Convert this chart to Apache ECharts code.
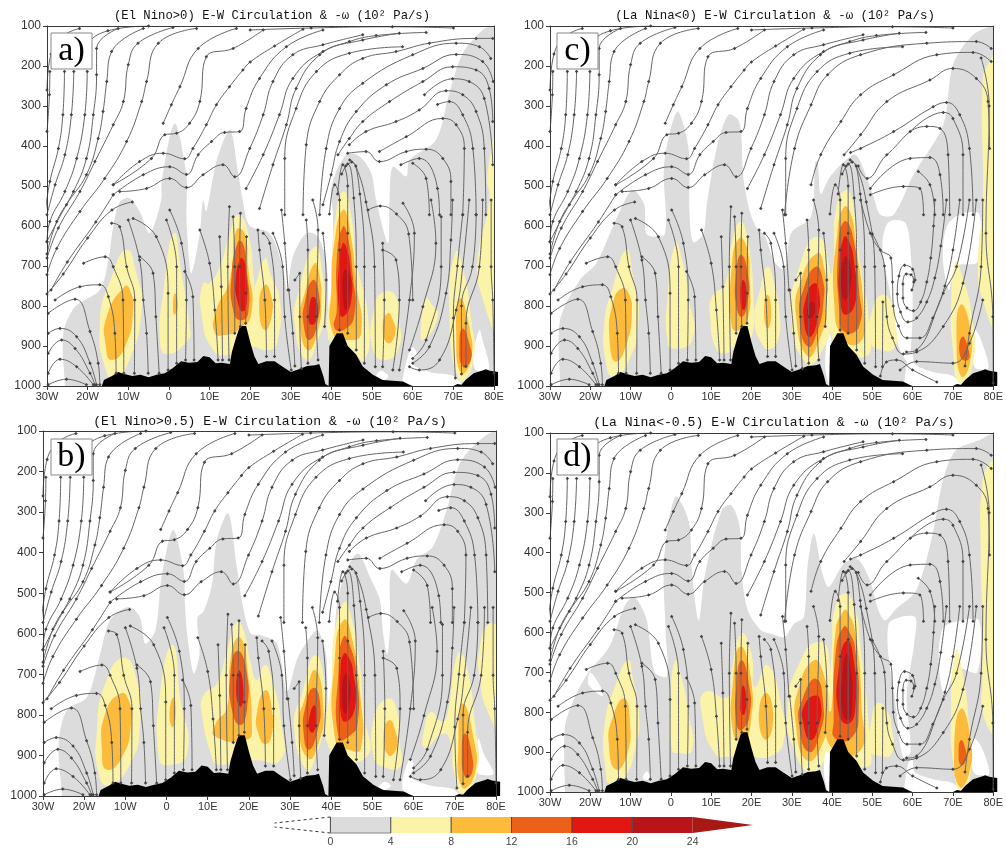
<!DOCTYPE html>
<html><head><meta charset="utf-8">
<style>html,body{margin:0;padding:0;background:#fff}#c{width:1006px;height:848px;filter:blur(0.35px)}</style>
<script src="https://cdn.jsdelivr.net/npm/echarts@6/dist/echarts.min.js"></script></head>
<body><div id="c"></div>
<script>
const lonTicks=['30W','20W','10W','0','10E','20E','30E','40E','50E','60E','70E','80E'];
const legendLevels=[0,4,8,12,16,20,24];
const levelColors=['#dcdcdc','#fbf3a8','#fdbb3c','#ec6119','#e21613','#b8141a','#a81815'];
const WHITE=-1;
const terrain=[-16.5,1040,-16.5,1000,-16,985,-14,975,-12.5,965,-11,970,-9,975,-7,972,-5,978,-3,972,-1,968,1,955,3,938,5,942,7,940,8.5,925,10,928,11.5,943,13,942,15,945,15.5,915,16.5,880,17.5,850,19,850,20,890,21,925,22,945,24,938,26,938,28,952,30,965,32,958,34,950,36,948,37,945,38,975,38.5,995,39.3,1000,39.5,900,41.3,868,42.8,868,44,900,46.1,922,47.7,951,50.2,972,52.6,985,57.6,989,59.2,997,60,1000,70,1000,71,995,72,997,73,985,75,968,77,962,78,958,79,962,81,965,81,1000];

const fillsA=[
[0,[-25.5,1040,-25.6,1000,-26,868,-23.1,802,-17,760,-14.9,685,-13.7,602,-12.1,540,-9.6,531,-7.2,564,-4.7,618,-1.9,535,-1.8,489,1.4,343,4.3,472,4.3,572,4.5,618,5.5,718,7.6,618,8.4,535,9.2,564,11.7,439,15,360,17,464,18.2,539,19.9,600,24.8,618,28,702,29.1,760,30.5,677,33.8,618,36.7,627,38.9,702,39.3,885,39.8,827,40.4,577,40,501,43.6,422,46.9,426,49.8,468,51,535,53.9,643,54.3,535,55.1,452,58.4,476,59.2,435,65.7,385,69,268,72.3,168,77.2,110,80,97,85,97,85,1040]],
[WHITE,[57.5,985,59,920,60,902,61,920,60,945,64,965,70,975,72,1000,58,1000]],
[WHITE,[76.4,860,74.8,926,75.6,960,78.8,960,77.2,885]],
[WHITE,[51,975,52.2,962,54,975,53,985]],
[1,[-10.4,660,-14.1,727,-17,843,-15.3,968,-13.3,977,-10.4,952,-6.7,810,-8,718]],
[2,[-10.8,750,-15.3,827,-15.5,902,-14.1,935,-10.8,902,-8.8,810,-9.6,760]],
[1,[1.2,618,-1.4,768,-2.2,885,-.6,920,4.7,885,5.1,851,3.1,718]],
[2,[1.5,768,1,800,1.4,822,2.2,800]],
[1,[17,572,15,618,12.5,702,10,743,8.4,743,8,818,10.9,910,15,922,19.9,902,24.8,910,26.8,885,27.3,785,25,720,23.6,681,21.1,752,21,743,19.5,618]],
[2,[16.6,610,15,735,11.7,810,11.3,868,14.1,872,17,860,20.3,818,19.5,702,18.6,618]],
[3,[17,639,15.4,727,15.8,810,17.4,835,19.5,818,19.1,702,18.2,643]],
[4,[17.6,681,16.4,735,16.8,785,18.2,814,19.2,785,19,718,18.4,685]],
[2,[23.6,747,22.2,802,23.6,860,25.4,818,25,768]],
[1,[35.9,652,31.8,768,30.9,843,33.8,935,36.7,885,38.3,818,37.9,727]],
[2,[35.9,693,33.4,768,32.2,835,34.2,910,36.7,860,37.5,785,37.1,727]],
[3,[35.4,735,33.4,793,33.1,843,34.6,885,36.7,835,36.9,768]],
[4,[35.4,777,34.5,810,34.6,843,35.9,843,36.7,802]],
[1,[43.2,514,41.2,560,40,743,39.5,885,44,900,48.1,935,49,827,46.1,685,44.9,577]],
[2,[42.8,560,40.8,635,40,752,40.4,868,44.5,885,47.3,868,46.1,743,44.4,602]],
[3,[42.8,602,41.3,685,41.3,810,40.8,856,43.6,856,45.7,818,45.3,727,44,627]],
[4,[42.8,643,41.8,702,41.8,802,42.8,827,44.9,785,44.6,702,43.6,652]],
[5,[43.2,710,42.8,768,43.6,810,44.5,768,44.3,718]],
[1,[53,764,50.6,802,50.2,910,53.5,935,56.7,902,56.7,835,55.9,777]],
[2,[53.9,818,52.6,851,53.9,893,55.7,868,55.1,835]],
[1,[63.3,781,62.1,843,62.5,885,66.2,827,64.5,793]],
[1,[70.6,664,69,810,71.5,985,74.8,943,74.3,827,72.3,702]],
[2,[71.6,781,70.7,868,71.9,968,74.3,935,73.9,851]],
[3,[72.3,856,71.5,893,72.3,952,74.3,935,73.9,893]],
[1,[81,360,78.4,468,78.8,535,76,685,76.8,768,81,860]]
];
const fillsB=[
[0,[-25.4,1040,-25.4,1000,-26.2,871,-24.2,788,-19.3,756,-16.1,649,-13.7,566,-9.3,534,-6.5,558,-5.2,624,-2.7,591,-1.2,460,1.6,344,4.1,443,4.5,534,5,600,6.6,698,8,650,7.5,560,9,545,11,480,12.2,369,15,303,17,430,18.5,530,20.5,600,22.8,603,26.8,624,29.2,743,31.6,665,33.3,632,36.5,591,38.1,624,38.9,665,39.3,860,40.2,860,40.5,700,41.3,534,43.7,443,46.5,402,49.4,460,51.8,517,52.6,600,53.6,650,54.3,580,54.6,443,58.3,476,60.7,418,64.7,385,68,295,71.2,180,76.1,122,80.1,98,85,98,85,1040]],
[WHITE,[57.2,970,59.2,904,60,928,59.2,953,64,974,69.3,982,71,998,58.3,998]],
[WHITE,[75.7,858,74.9,912,75.7,945,79.4,945,77,895]],
[WHITE,[51.5,978,53,965,54.5,975,53,985]],
[1,[-10.4,659,-14.9,723,-16.9,838,-16.5,945,-14,974,-8.8,920,-6.4,821,-7.2,714]],
[2,[-11.2,747,-14.9,797,-15.7,887,-14.5,935,-10.8,904,-8.6,821,-9.2,764]],
[1,[1.5,628,-1.5,739,-1.9,904,.1,924,5,895,3.3,756]],
[2,[1.7,757,.7,797,1.5,830,2.2,797]],
[1,[17.1,570,14.7,640,12.2,723,9,751,8.6,797,11,904,12.2,922,15.5,920,21.5,912,27.6,912,28,830,25.2,698,23.8,677,21.9,714,20.3,665,18.7,591]],
[2,[17.2,609,15.5,665,14.7,780,11.8,825,11.8,854,19.5,861,20.7,821,19.5,673,18.7,624]],
[3,[17.2,642,15.5,698,15.9,788,17.9,825,19.5,788,19.4,690]],
[4,[17.7,690,16.9,739,17.9,780,18.7,747]],
[2,[24,739,21.9,797,22.3,846,24,872,25.6,846,25.6,788]],
[1,[36.1,653,32.9,747,31,830,34.1,937,36.5,895,38.1,830,38.5,739]],
[2,[36.1,690,33.7,756,32.1,830,34.5,908,36.9,871,38.1,788]],
[3,[35.7,733,33.7,780,33.3,846,34.5,886,36.5,846,37.3,772]],
[4,[35.9,776,34.7,805,34.7,838,35.7,842,36.4,805]],
[1,[43.3,521,41,583,40.1,706,39.7,887,48.6,904,47.8,788,46.6,649,44.6,550]],
[2,[43,566,41,640,41,863,44.6,887,47.2,883,47,747,44.6,591]],
[3,[43,607,41.8,682,41.8,858,44.6,850,46.4,821,46.2,706,44.4,624]],
[4,[43,649,42.2,698,42.2,788,43.4,817,45.8,780,45.4,698,44.2,657]],
[5,[43.4,698,42.6,747,43.4,797,44.6,756,44.2,706]],
[1,[53.9,760,50.7,797,50.3,904,52.7,928,56.7,928,56.7,871,55.9,788]],
[2,[54.1,813,52.7,846,53.9,900,55.9,879,55.5,838]],
[1,[64.4,793,62.8,821,62.8,883,67.2,846,69,870,69.7,937,71.7,994,75.3,945,74.9,821,72.5,665,70.7,649,68,805,66.5,815]],
[2,[71.9,772,70.9,854,71.7,978,74.9,945,74.5,854]],
[3,[72.5,846,71.7,887,72.5,953,74.1,945,74.1,895]],
[1,[78.4,575,76.1,632,76.1,714,78.2,797,81,838,81,600]]
];
const fillsC=[
[0,[-27.5,1040,-27.5,1000,-27.5,835,-22.6,735,-18.5,693,-13,570,-9.5,510,-6.6,547,-6,620,-1.5,620,-1.7,447,1.6,314,4.4,406,4.6,560,5.5,640,8,620,9,540,11.5,400,14.3,322,17,340,18,480,19.5,560,21,600,23.3,625,25.8,691,28.2,707,29.9,617,34.8,576,35.8,440,36.4,440,37.2,520,39.3,480,43,439,45.9,422,48.7,481,50.4,530,52,572,55.3,572,60.2,472,67.6,347,70,197,75,122,80,100,85,100,85,1040]],
[WHITE,[54,590,52.5,650,55,800,56.5,900,59,940,60,800,59.3,640,58,590]],
[WHITE,[68.5,600,67.5,680,69,760,71,700,76,690,76.5,570,72,570]],
[WHITE,[58,985,59,925,60,915,60.5,945,65,965,70,975,72,1000,58,1000]],
[WHITE,[75.5,860,74.8,920,75.6,955,78.8,955,77,885]],
[WHITE,[39,860,38.3,950,39.3,1000,39.8,990,39.8,880]],
[1,[-11.1,660,-14.4,752,-16.5,843,-16.1,943,-14.4,976,-10.7,943,-8,835,-9.5,718]],
[2,[-12.1,756,-14.4,793,-15.2,885,-13.6,939,-10.7,885,-9.7,818,-10.3,772]],
[1,[1.2,643,-.9,785,-.9,885,.3,906,5.3,885,4.4,777,2.8,685]],
[1,[17.2,589,15.1,643,13.5,743,10.2,777,9.8,835,11,902,12.6,918,15.1,910,17,880,20,880,20.4,760,19.8,680,18.8,618]],
[2,[16.9,631,15.1,702,15.1,851,17,860,19.2,827,19.6,743,18.8,652]],
[3,[17.4,672,16.1,727,16.3,802,17.6,827,19,793,19.2,727]],
[4,[18,735,17.2,768,18,810,18.8,777]],
[1,[24,702,22.1,760,20.8,835,22.5,893,24.5,908,26.6,885,27,818,25.8,752]],
[2,[24,772,23.1,810,24,856,24.9,818]],
[1,[36.3,627,31.9,702,29.9,835,33.6,943,36.8,926,40.1,827,39.3,702]],
[2,[36.3,668,32.3,735,31.1,827,34,926,36.8,885,38.9,802,38,702]],
[3,[36,702,33.1,752,31.9,827,34,902,36.5,860,37.9,785,37.7,735]],
[4,[35.6,743,33.6,777,33.1,843,34.6,877,36.5,827,36.8,768]],
[5,[34.4,793,34,827,35.2,827,35.6,793]],
[1,[43.4,510,41,556,40.5,660,39.7,868,48.3,926,49.1,835,47.1,702,45,535]],
[2,[43,552,41.3,618,40.5,785,43,885,47.1,889,47.9,818,45.9,643,44.6,568]],
[3,[43,589,41.5,660,41.8,810,43,864,46.7,851,46.7,760,45,618]],
[4,[43,627,41.8,702,42,785,43.4,822,45.9,785,45.4,685,44.2,639]],
[5,[43.2,677,42.2,735,43.2,785,44.6,752,44.5,693]],
[1,[52.4,772,50,810,49.5,885,52,910,55.7,902,55.7,843,54.9,793]],
[1,[70.7,689,69.6,785,70,910,71.7,993,75,943,74.6,818,72.1,718]],
[2,[71.9,797,70.9,885,72.1,976,74.2,943,74.2,851]],
[3,[72.3,877,71.8,926,73.7,935,73.9,910]],
[1,[81,172,79,190,77.4,240,77.4,535,76.2,702,77.4,785,81,860]]
];
const fillsD=[
[0,[-26.3,1040,-26.3,1002,-26.3,837,-23.8,762,-20.6,703,-15.3,636,-11.6,536,-9.1,511,-6.2,561,-5.5,600,-4,700,-1,710,-1.3,600,-1.7,419,1.1,260,4.4,319,5.2,444,6.9,570,8.5,452,12.6,294,15,281,17.1,336,17.5,444,19.1,545,22.4,595,24.9,603,28.2,611,30.6,578,33,561,33.9,436,35.5,352,37.6,452,39.2,486,42.9,428,46.2,415,49.4,469,51.5,544,53.1,570,56,540,60.9,494,65,352,67.5,219,70.7,143,76.5,118,80,101,85,101,85,1040]],
[WHITE,[54,580,56,800,57.6,912,59.5,900,58.5,760,60.5,620,60.5,560]],
[WHITE,[67.5,590,66.5,680,68,760,71,690,76,700,76.5,570,72,570]],
[WHITE,[58,985,59,925,60,920,60.5,950,65,968,70,978,72,1000,58,1000]],
[WHITE,[75,865,74.5,925,75.5,955,79,955,77,885]],
[WHITE,[38.5,860,38,950,39,1000,39.7,990,39.8,880]],
[WHITE,[-7,965,-6,948,-5,960,-6,970]],
[WHITE,[-20,700,-17.5,735,-17,760,-20.5,730]],
[1,[-10.6,670,-13.6,728,-16.5,837,-16.1,954,-15.2,979,-12,971,-8.7,887,-7.9,804,-9.5,712]],
[2,[-11.6,766,-14.4,812,-15.4,879,-13.6,944,-10.8,904,-10.2,820]],
[1,[1.1,670,-.1,787,.3,896,1.5,902,5.2,896,4.4,804,2.8,720]],
[1,[17.5,603,15,703,14.2,762,8.5,749,7.7,804,11,904,15,912,19.1,912,25.3,908,28.2,862,27.7,795,24,682,20.8,737,20,653]],
[2,[17.3,636,15.5,712,15.5,854,17.9,870,19.8,829,19.8,712]],
[3,[17.5,670,16.3,728,16.3,829,17.5,845,19.6,804,19.2,720]],
[4,[17.9,733,17.3,770,17.5,804,18.3,804,18.7,762]],
[2,[23.6,752,21.8,812,23.6,869,25.4,812]],
[1,[36.3,624,32.2,670,29,787,30.6,896,35.1,950,38.8,879,39.2,653]],
[2,[35.5,670,31.8,737,31,829,33.9,921,38,870,39.2,795,37.6,695]],
[3,[36,716,32.7,766,31.8,829,34.3,900,37.2,845,37.8,778]],
[4,[36,758,33.1,783,32.9,829,34.7,870,36.8,829,37.2,778]],
[1,[43.3,503,40.8,536,40,628,39.2,829,39.2,904,48.6,937,49.4,879,47,628,45.8,545]],
[2,[42.9,545,40.9,595,39.8,795,38.5,800,40.4,895,47.1,895,47.4,795,45.8,603,43.7,545]],
[3,[42.9,586,40.9,653,40.4,820,40.8,866,45,862,46.6,795,45.8,645,44.5,603]],
[4,[43.7,620,41.7,687,41.7,804,44.1,829,45.8,787,45.4,670]],
[5,[43.7,653,42.5,712,42.5,795,44.1,820,45,770,44.7,695]],
[1,[51.3,777,49.9,812,49.4,896,51,908,54.8,904,54.8,837,53.5,795]],
[1,[70.7,645,69.5,795,70.3,946,72,996,74.4,954,74,829,72,678]],
[2,[72,791,70.3,896,71.6,987,74,954,74.4,870]],
[3,[72,870,71.4,904,72,933,73.2,921,73.2,896]],
[1,[81,173,79.3,173,77.3,227,76.9,402,77.3,570,77.3,712,77.7,812,81,854]]
];

const upperLines=[
[-29.3,214,-29.4,272,-30,364],
[-25.7,214,-26.1,322,-27.2,406,-29.3,489,-30.5,572],
[-23.4,214,-24,322,-25.6,422,-28,497,-30,572],
[-20.1,214,-20.7,322,-22.7,431,-25.6,514,-29.3,589,-30,640],
[-12.5,106,-17.8,156,-17.8,222,-18.6,322,-20.3,431,-23.5,514,-27.6,589,-30,670],
[-6.3,106,-14.1,164,-15.3,239,-16.2,314,-17.4,381,-20.3,472,-25.2,547,-30,639],
[1,104,-7.6,143,-10,197,-11.2,289,-13.7,347,-18.2,439,-21.9,514,-27.2,605,-30,680],
[6.8,106,-2.6,143,-5.5,239,-6.7,289,-10.4,389,-15.8,481,-21.9,564,-27.6,656,-30,722],
[16.6,106,7.2,156,2.7,252,.6,297,-1.4,343],
[23.2,110,15.8,156,9.2,177,7.6,289,5.1,343,1.9,368,-1,372,-4.3,431,-13.7,497],
[33,108,26,150,20,190,18.2,210,14.9,252,11.7,297,9.2,347,5.9,406,3.9,432,-1.4,418,-7.2,439,-13.7,497],
[37.9,110,28.9,152,22.3,231,19,306,17.4,364,13.7,366,10.5,389,7.2,422,4.3,471,.2,452,-6.3,472,-13.7,522],
[47.7,122,37.9,147,30.5,172,25.6,239,23.2,322,19.9,406,16.2,477,13.3,447,8.4,472,4.3,504,.2,481,-5.5,506,-12.1,514],
[56.7,118,47.7,135,37.9,164,30.5,231,27.2,322,23.2,422,19,506],
[63.3,116,51,124,44.4,139,37.1,172,31.3,256,28.9,347,25.6,447,22.3,556],
[57.5,152,44.4,168,36.3,214,31.3,306,28.5,431,28.5,572],
[-22,106,-26,125,-29,170,-30,260],
[-5,100,-15,112,-20,150,-20.5,190],
[70,105,55,102,35,105,20,110],
[-13.7,522,-18,590,-25,690,-29,760],
[-9,540,-14,560,-20,630,-26,720,-30,770]
];
const lowerLines=[
[-28,785,-21.9,752,-17,747,-14.9,777,-13.3,868,-13,968],
[-29.7,818,-23.1,783,-19.4,864,-17.4,943,-17,997],
[-29.7,868,-26.8,856,-22.7,877,-19.4,943,-17.8,997],
[-29.7,918,-26.4,885,-23.1,906,-19.4,968,-18.2,997],
[-29.7,968,-26.8,933,-22.7,952,-18.6,997],
[-29.7,997,-25.2,983,-20.3,997],
[-21,693,-15.7,677,-13.7,702,-11.3,785,-11.1,968],
[-14.1,593,-12.1,602,-10.4,702,-8.4,785,-8.5,968],
[-10,585,-7.2,685,-6.3,785,-5.5,868,-5.1,968],
[-7.2,677,-3.9,718,-3.2,827,-2.4,968],
[-8.8,581,-3.1,627,-.2,768,-.2,960],
[-.6,585,1.9,702,1.9,943],
[.2,560,3.1,643,4.3,785,4.1,935],
[3.9,714,5.9,777,6.2,935],
[7.6,610,10,693,11.3,810,12.1,935],
[12.5,627,12.9,752,13.2,935],
[14.9,552,14.5,702,14.8,935],
[15.8,577,16.2,702,16.2,868],
[17.6,568,17.4,702,17.6,851],
[19.1,627,18.9,768,18.9,843],
[21.9,610,22.3,660,23.6,785,24,926],
[23.2,618,24.8,643,26,785,26,926],
[25.6,618,28,702,28.5,827,30.1,960],
[27.7,560,28.5,643,29.3,760],
[29.5,760,30.5,868,31,950],
[33.8,585,34.2,660,34.2,827,34.2,943],
[31,735,32.2,718,32.2,827,32.6,956],
[35.4,535,36.7,610,36.3,827,36.7,935],
[37.9,618,38.7,735,38.3,851],
[39.5,570,40.8,497,42,535,42,660,42,860],
[41.5,520,42.8,447,44,500,44,618,44,868],
[42.5,470,44,445,45.5,530,46.1,702,46.1,910],
[43.5,450,45,440,47,520,48.1,702,48.1,943],
[44.5,435,46,450,48.5,540,50.6,702,50.8,952]
];
const elNinoLines=[
[79.7,131,75.6,131,64.1,143,55.9,164,47.7,181,42,222,37.1,289,33.8,397,33,572],
[79.2,181,76.4,152,70.7,143,60,172,47.7,243,42,306,38.7,406,37.1,572],
[79.8,239,77.2,189,70.7,171,62.5,206,53.5,247,46.1,314,42,389,39.9,472,37.9,547],
[79.7,339,78.8,256,75.6,210,69.8,202,62.5,239,54.3,289,47.7,339,44.4,381,41.6,422],
[79.7,447,77.6,281,73.9,239,69.8,232,62.9,272],
[78,572,77.6,406,75.6,314,72.3,272,68.2,262,61.6,310,55.9,339,48.5,364,44.4,397],
[75.6,572,74.8,406,72.3,322,69,289,66.1,296],
[72.3,572,72.7,406,70.7,347,67.4,331,58.4,377,51.8,414],
[69.4,572,69.4,489,67.4,431,63.3,408,58.4,414,51.8,439,48.5,414,44,418],
[66.6,572,66.1,506,61.6,431,57.1,447],
[64.1,572,63.3,481,60,443],
[49,560,52,550,56,570,59,620,60,785],
[52.6,643,53,785,52.6,952],
[52.6,660,55.9,685,56.7,785,55.1,960],
[57.6,543,60.4,618,59.2,785,56.7,960],
[64.5,535,65.7,643,62.5,802,59.2,910],
[67,577,67,702,63.3,885,60,931],
[69.8,535,69.4,635,68.2,768,64.1,902,60,943],
[73.9,535,72.3,702,70.7,810,66.6,935,61.6,960,59.2,952],
[77.2,535,76.4,702,73.1,843,73.1,951],
[79.3,535,79.3,702,79.7,785,80,968],
[75.6,572,74.7,702,72,800,72,970],
[72.3,572,71,700,70,830,70.5,980]
];
const laNinaLines=[
[79.5,156,75.8,139,63.5,143,47.1,172,38.9,222,34.8,297,30.7,406,28.2,572],
[79.5,189,75,166,66,172,55.3,222,47.1,272,42.2,339,37.2,422,34.8,497],
[79.1,406,78.7,289,75.8,231,70,206,64.3,235,53.6,289,47.1,372,43,422],
[75,572,74.1,406,71.7,322,68.4,291,65.1,302,55.3,364,47.1,406,44.6,416],
[72.5,572,72.5,422,70,331,67.6,316,59.4,364],
[69.2,572,68.8,422,66.8,356,63.5,351,53.6,422,48.7,481,46.5,450],
[67.6,572,66.8,472,64.3,429,59.4,431,49.5,506],
[65.5,572,64.3,497,61.4,464],
[62.7,572,61.8,506,57.7,501,49.5,522],
[80,993,79.9,827,78.2,618,79,300,77,180],
[77.4,535,77,702,74.1,868,73,950],
[74.1,535,70.9,702,67.6,768,61,910,58.5,915],
[59.8,760,60.3,740,59.6,722,58.4,720,57.6,745,57.6,780,58.6,805,60.2,812,62,790,63.5,740,64.5,680,65.2,600,65.5,535],
[60.6,735,60,708,58,698,56.6,725,56.2,770,57,815,58.8,840,61,830,63.5,790,65.5,730,67,650,68.4,535],
[47.1,535,49.5,618,52,660,54.6,680,55,740,55.2,800,56.5,850,58.6,880,61.8,880,65,830,68,750,70,660,71.7,535],
[50,620,53,700,53.6,827,55,880,57.7,920,61,915,67.6,851,72.5,743,75.8,535],
[77.4,785,74.1,893,70,943,61,939,56.9,960],
[66,990,60,960,56,935,53.5,940,52,975],
[52.6,790,52.5,952]
];

const chart=echarts.init(document.getElementById('c'),null,{renderer:'canvas'});
function pairs(f){const o=[];for(let i=0;i<f.length;i+=2)o.push([f[i],f[i+1]]);return o;}
const panels=[
 {g:{left:47,top:26,width:447,height:360},fills:fillsA,lines:[upperLines,lowerLines,elNinoLines],title:'(El Nino>0) E-W Circulation & -ω (10² Pa/s)',tx:267,ty:5,fs:12.25,tag:'a)',bx:51,by:33},
 {g:{left:43,top:431,width:453,height:365},fills:fillsB,lines:[upperLines,lowerLines,elNinoLines],title:'(El Nino>0.5) E-W Circulation & -ω (10² Pa/s)',tx:265,ty:410,fs:13.1,tag:'b)',bx:51,by:439},
 {g:{left:550,top:26,width:447,height:360},fills:fillsC,lines:[upperLines,lowerLines,laNinaLines],title:'(La Nina<0) E-W Circulation & -ω (10² Pa/s)',tx:770,ty:5,fs:12.4,tag:'c)',bx:557,by:33},
 {g:{left:550,top:433,width:448,height:359},fills:fillsD,lines:[upperLines,lowerLines,laNinaLines],title:'(La Nina<-0.5) E-W Circulation & -ω (10² Pa/s)',tx:769,ty:411,fs:13.1,tag:'d)',bx:557,by:439}
];
const grid=[],xAxis=[],yAxis=[],series=[],title=[],graphic=[];
const frame={show:true,onZero:false,lineStyle:{color:'#3a3a3a',width:1}};
panels.forEach((P,k)=>{
 grid.push(P.g);
 const xi=xAxis.length,yi=yAxis.length;
 xAxis.push({type:'value',gridIndex:k,min:-30,max:80,interval:10,z:10,axisLine:frame,axisTick:{show:true,length:4,lineStyle:{color:'#3a3a3a'}},splitLine:{show:false},
  axisLabel:{margin:5,fontFamily:'Liberation Sans',fontSize:11,color:'#333',hideOverlap:false,showMinLabel:true,showMaxLabel:true,formatter:v=>lonTicks[(v+30)/10]}});
 xAxis.push({type:'value',gridIndex:k,position:'top',min:-30,max:80,interval:10,z:10,axisLine:frame,axisTick:{show:false},axisLabel:{show:false},splitLine:{show:false}});
 yAxis.push({type:'value',gridIndex:k,inverse:true,min:100,max:1000,interval:100,z:10,axisLine:frame,axisTick:{show:true,length:4,lineStyle:{color:'#3a3a3a'}},splitLine:{show:false},
  axisLabel:{margin:6,fontFamily:'Liberation Sans',fontSize:12,color:'#333',showMinLabel:true,showMaxLabel:true,formatter:v=>String(v)}});
 yAxis.push({type:'value',gridIndex:k,inverse:true,position:'right',min:100,max:1000,interval:100,z:10,axisLine:frame,axisTick:{show:false},axisLabel:{show:false},splitLine:{show:false}});
 const polys=P.fills;
 series.push({type:'custom',xAxisIndex:xi,yAxisIndex:yi,z:1,silent:true,animation:false,clip:true,
  data:polys.map((q,i)=>[q[1][0],q[1][1],i]),
  renderItem:(params,api)=>{const q=polys[api.value(2)];
   return {type:'polygon',shape:{points:pairs(q[1]).map(c=>api.coord(c)),smooth:q[0]>=1?0.55:0.3},style:{fill:q[0]===WHITE?'#fff':levelColors[q[0]],stroke:null}};}});
 series.push({type:'custom',xAxisIndex:xi,yAxisIndex:yi,z:2,silent:true,animation:false,clip:false,
  data:[[terrain[0],terrain[1],0]],
  renderItem:(params,api)=>{
   const g=P.g,pts=pairs(terrain).map(c=>api.coord(c));
   const bottom=g.top+g.height;
   return {type:'polygon',shape:{points:pts.map(p=>[p[0],Math.min(p[1],bottom)])},style:{fill:'#000'}};}});
 P.lines.forEach(group=>group.forEach(f=>{
  series.push({type:'line',xAxisIndex:xi,yAxisIndex:yi,z:3,silent:true,animation:false,clip:true,smooth:0.45,data:pairs(f),
   showAllSymbol:true,symbol:'diamond',symbolSize:3.5,
   lineStyle:{color:'#666',width:1},itemStyle:{color:'#444'}});
 }));
 title.push({text:P.title,left:P.tx,top:P.ty,textAlign:'center',textStyle:{fontFamily:'Liberation Mono',fontSize:P.fs,fontWeight:'normal',color:'#111'}});
 graphic.push({type:'rect',x:P.bx,y:P.by,z:100,shape:{x:0,y:0,width:41,height:36},style:{fill:'#fff',stroke:'#888',lineWidth:1}});
 graphic.push({type:'text',x:P.bx+20.5,y:P.by+18,z:101,style:{text:P.tag,align:'center',verticalAlign:'middle',font:'34px "Liberation Serif"',fill:'#000'}});
});
// colour bar
const L=panels.length;
grid.push({left:270,width:483,top:817,height:17});
xAxis.push({type:'value',gridIndex:L,min:-4,max:28,interval:4,axisLine:{show:false},axisTick:{show:false},splitLine:{show:false},
 axisLabel:{margin:4,fontFamily:'Liberation Sans',fontSize:10.5,color:'#444',showMinLabel:true,showMaxLabel:true,formatter:v=>legendLevels.includes(v)?String(v):''}});
yAxis.push({type:'value',gridIndex:L,min:0,max:1,show:false});
series.push({type:'custom',xAxisIndex:xAxis.length-1,yAxisIndex:yAxis.length-1,silent:true,animation:false,clip:false,
 data:legendLevels.map((v,i)=>[v,0,i]),
 renderItem:(params,api)=>{
  const i=api.value(2),v=legendLevels[i];
  const a=api.coord([v,1]),b=api.coord([v+4,0]),mid=api.coord([28,.5]);
  if(i===legendLevels.length-1){
   return {type:'group',children:[{type:'polygon',shape:{points:[a,[a[0],b[1]],mid]},style:{fill:levelColors[6]}}]};
  }
  const kids=[{type:'rect',shape:{x:a[0],y:a[1],width:b[0]-a[0],height:b[1]-a[1]},style:{fill:levelColors[i]}},
   {type:'line',shape:{x1:a[0],y1:a[1],x2:a[0],y2:b[1]},style:{stroke:'#444',lineWidth:1}}];
  if(i===0){
   const tip=api.coord([-3.7,.5]);
   kids.push({type:'line',shape:{x1:a[0],y1:a[1],x2:tip[0],y2:tip[1]-2},style:{stroke:'#333',lineWidth:1,lineDash:[3,3]}});
   kids.push({type:'line',shape:{x1:a[0],y1:b[1],x2:tip[0],y2:tip[1]+2},style:{stroke:'#333',lineWidth:1,lineDash:[3,3]}});
   kids.push({type:'line',shape:{x1:a[0],y1:b[1],x2:b[0],y2:b[1]},style:{stroke:'#888',lineWidth:1}});
  }
  return {type:'group',children:kids};
 }});
chart.setOption({animation:false,backgroundColor:'#fff',title,grid,xAxis,yAxis,series,graphic:{elements:graphic}});
</script></body></html>
